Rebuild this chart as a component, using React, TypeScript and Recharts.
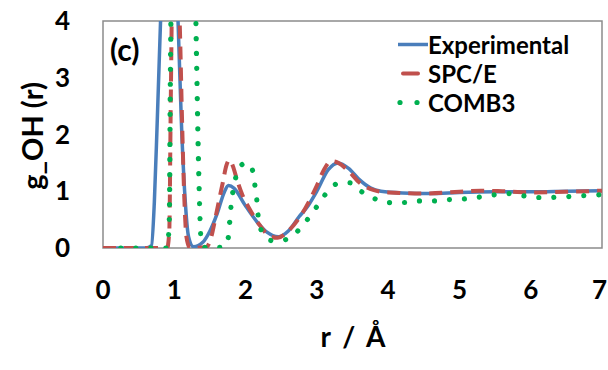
import React from "react";
import { LineChart, Line, XAxis, YAxis, Legend, ReferenceArea } from "recharts";

// r (Å) and g_OH(r), one pair of arrays per curve
const expR = [0, 0.6, 0.68, 0.72, 0.76, 0.81, 0.87, 0.94, 1.0, 1.05, 1.1, 1.15, 1.2, 1.27, 1.4, 1.5, 1.6, 1.7, 1.76, 1.84, 1.99, 2.18, 2.3, 2.46, 2.6, 2.75, 2.88, 3.0, 3.16, 3.3, 3.45, 3.6, 3.75, 3.9, 4.2, 4.6, 5.0, 5.5, 6.0, 6.5, 7.0];
const expG = [0, 0, 0.04, 0.8, 2.2, 4.1, 6.8, 7.6, 6.3, 4.1, 2.2, 0.9, 0.2, 0.02, 0.1, 0.3, 0.6, 0.98, 1.1, 1.05, 0.76, 0.43, 0.28, 0.2, 0.3, 0.55, 0.75, 1.0, 1.38, 1.5, 1.4, 1.2, 1.06, 1.0, 0.97, 0.96, 0.98, 0.99, 0.99, 1.0, 1.01];

const spcR = [0, 0.9, 0.93, 0.95, 0.97, 1.01, 1.05, 1.08, 1.11, 1.14, 1.17, 1.22, 1.45, 1.52, 1.58, 1.63, 1.68, 1.73, 1.77, 1.82, 1.88, 1.95, 2.05, 2.2, 2.35, 2.45, 2.6, 2.8, 3.0, 3.1, 3.2, 3.3, 3.45, 3.6, 3.8, 4.0, 4.5, 5.0, 5.3, 5.6, 6.0, 6.5, 7.0];
const spcG = [0, 0, 0.3, 2.5, 4.6, 6.2, 5.0, 3.8, 2.2, 0.9, 0.2, 0, 0.02, 0.2, 0.55, 0.85, 1.15, 1.45, 1.55, 1.45, 1.2, 0.95, 0.7, 0.4, 0.2, 0.18, 0.3, 0.62, 1.1, 1.38, 1.53, 1.5, 1.35, 1.15, 1.02, 0.98, 0.96, 0.99, 1.01, 1.0, 0.98, 0.99, 1.01];

const combR = [0.25, 0.9, 0.93, 0.945, 0.97, 1.1, 1.28, 1.31, 1.34, 1.38, 1.45, 1.7, 1.76, 1.78, 1.8, 1.83, 1.88, 1.95, 2.02, 2.08, 2.11, 2.13, 2.16, 2.18, 2.23, 2.37, 2.5, 2.6, 2.74, 2.86, 3.0, 3.11, 3.23, 3.35, 3.46, 3.63, 3.81, 4.0, 4.2, 4.42, 4.63, 4.84, 5.03, 5.24, 5.45, 5.66, 5.85, 6.06, 6.27, 6.48, 6.69, 6.88, 7.0];
const combG = [0, 0, 0.5, 3.0, 5.5, 7.5, 5.5, 3.5, 1.5, 0.1, 0, 0.02, 0.2, 0.49, 0.79, 1.05, 1.32, 1.47, 1.5, 1.42, 1.3, 1.11, 0.82, 0.52, 0.29, 0.13, 0.13, 0.17, 0.31, 0.49, 0.73, 0.93, 1.1, 1.15, 1.15, 0.99, 0.87, 0.8, 0.8, 0.83, 0.83, 0.85, 0.86, 0.89, 0.93, 0.96, 0.93, 0.89, 0.89, 0.9, 0.92, 0.93, 0.94];

const xTicks = [0, 1, 2, 3, 4, 5, 6, 7];
const yTicks = [0, 1, 2, 3, 4];
const seriesNames = ["Experimental", "SPC/E", "COMB3"];

const FONT = "Lato, 'Open Sans', sans-serif";
const BLUE = "#4a7ebb";
const RED = "#c0504d";
const GREEN = "#00b050";

const toPoints = (rs: number[], gs: number[]) => rs.map((r, i) => ({ r, g: gs[i] }));

const expData = toPoints(expR, expG);
const spcData = toPoints(spcR, spcG);
const combData = toPoints(combR, combG);

const tickStyle = { fontFamily: FONT, fontWeight: 700, fontSize: 26, fill: "#000" };

// x tick: last label pulled in so it is not cut by the right edge
function XTick(props: any) {
    const { x, y, payload } = props;
    const last = payload.value === xTicks[xTicks.length - 1];
    return (
        <text
            x={last ? x + 5 : x}
            y={y}
            dy="0.71em"
            textAnchor={last ? "end" : "middle"}
            {...tickStyle}
        >
            {payload.value}
        </text>
    );
}

// legend samples drawn by hand so the dash / dot styles match
function LegendBox() {
    const sample = (name: string) => {
        if (name === "Experimental") {
            return <line x1={2} x2={32} y1={14.5} y2={14.5} stroke={BLUE} strokeWidth={3.5} />;
        }
        if (name === "SPC/E") {
            return <line x1={7} x2={22} y1={14.5} y2={14.5} stroke={RED} strokeWidth={4} strokeLinecap="round" />;
        }
        return (
            <g fill={GREEN}>
                <circle cx={4} cy={14.5} r={2.6} />
                <circle cx={21} cy={14.5} r={2.6} />
            </g>
        );
    };
    return (
        <div style={{ fontFamily: FONT, fontWeight: 700, fontSize: 24, lineHeight: "29px", color: "#000" }}>
            {seriesNames.map((name) => (
                <div key={name} style={{ display: "flex", alignItems: "center", height: 29 }}>
                    <svg width={32} height={29} style={{ flex: "none" }}>
                        {sample(name)}
                    </svg>
                    <span style={{ whiteSpace: "nowrap" }}>{name}</span>
                </div>
            ))}
        </div>
    );
}

export default function App() {
    return (
        <div style={{ position: "absolute", left: 0, top: 0, width: 608, height: 370, background: "#fff" }}>
            <LineChart width={608} height={370} margin={{ top: 21, right: 6, left: 0, bottom: 0 }}>
                <XAxis
                    type="number"
                    dataKey="r"
                    domain={[0, 7]}
                    ticks={xTicks}
                    allowDataOverflow
                    axisLine={false}
                    tickLine={false}
                    tickSize={0}
                    tickMargin={33}
                    height={122}
                    tick={<XTick />}
                    interval={0}
                />
                <YAxis
                    type="number"
                    domain={[0, 4]}
                    ticks={yTicks}
                    allowDataOverflow
                    axisLine={false}
                    tickLine={false}
                    tickSize={0}
                    tickMargin={33}
                    width={103}
                    tick={tickStyle}
                    interval={0}
                />
                <ReferenceArea x1={0} x2={7} y1={0} y2={4} fill="none" stroke="#8c8c8c" strokeWidth={1.5} ifOverflow="visible" />
                <Line
                    data={expData}
                    dataKey="g"
                    name={seriesNames[0]}
                    type="monotone"
                    stroke={BLUE}
                    strokeWidth={3.5}
                    dot={false}
                    activeDot={false}
                    isAnimationActive={false}
                />
                <Line
                    data={spcData}
                    dataKey="g"
                    name={seriesNames[1]}
                    type="monotone"
                    stroke={RED}
                    strokeWidth={4}
                    strokeDasharray="13 8"
                    dot={false}
                    activeDot={false}
                    isAnimationActive={false}
                />
                <Line
                    data={combData}
                    dataKey="g"
                    name={seriesNames[2]}
                    type="monotone"
                    stroke={GREEN}
                    strokeWidth={5.2}
                    strokeDasharray="0.01 15"
                    strokeLinecap="round"
                    dot={false}
                    activeDot={false}
                    isAnimationActive={false}
                />
                <Legend
                    layout="horizontal"
                    verticalAlign="middle"
                    align="center"
                    content={<LegendBox />}
                    wrapperStyle={{ left: 396, top: 30, width: 210, height: 90 }}
                />
            </LineChart>
            <svg width={608} height={370} style={{ position: "absolute", left: 0, top: 0, pointerEvents: "none" }}>
                <g fontFamily={FONT} fontWeight={700} fill="#000">
                    <text x={110} y={61} fontSize={30}>(c)</text>
                    <text x={43} y={136} fontSize={29} textAnchor="middle" transform="rotate(-90 43 136)">
                        g_OH (r)
                    </text>
                    <text x={353} y={347} fontSize={28} textAnchor="middle" wordSpacing={5}>
                        r / Å
                    </text>
                </g>
            </svg>
        </div>
    );
}
